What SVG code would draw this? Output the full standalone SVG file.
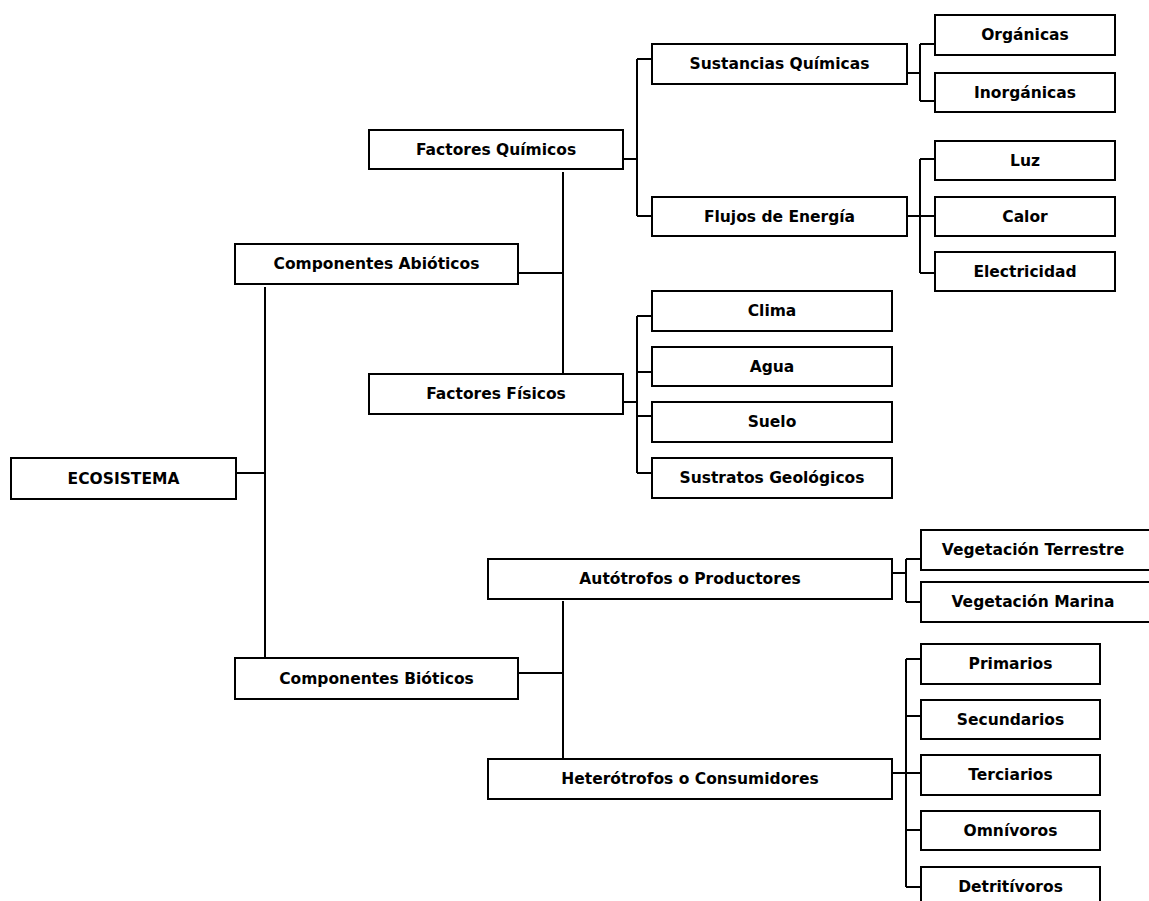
<svg xmlns="http://www.w3.org/2000/svg" width="1149" height="901" viewBox="0 0 1149 901">
<style>
.box{fill:#fff;stroke:#000;stroke-width:2}
.lbl{font-family:"DejaVu Sans","Liberation Sans",sans-serif;font-weight:bold;font-size:15.5px;fill:#000;text-anchor:middle}
.con{fill:none;stroke:#000;stroke-width:2}
</style>
<rect width="1149" height="901" fill="#fff"/>
<g id="connectors" class="con">
<path d="M236,473 H265 M265,287 V658"/>
<path d="M518,273 H563 M563,172 V374"/>
<path d="M518,673 H563 M563,601 V758"/>
<path d="M623,159 H637 M637,59 V216 M637,59 H652 M637,216 H652"/>
<path d="M907,73 H920 M920,44 V101 M920,44 H935 M920,101 H935"/>
<path d="M907,216 H920 M920,159 V273 M920,159 H935 M920,216 H935 M920,273 H935"/>
<path d="M623,402 H637 M637,316 V473 M637,316 H652 M637,372 H652 M637,416 H652 M637,473 H652"/>
<path d="M892,573 H906 M906,559 V602 M906,559 H921 M906,602 H921"/>
<path d="M891,773 H906 M906,659 V887 M906,659 H921 M906,716 H921 M906,773 H921 M906,830 H921 M906,887 H921"/>
</g>
<g id="eco"><rect class="box" x="11" y="458" width="225" height="41"/><text class="lbl" x="123.5" y="484">ECOSISTEMA</text></g>
<g id="ca"><rect class="box" x="235" y="244" width="283" height="40"/><text class="lbl" x="376.5" y="268.5">Componentes Abióticos</text></g>
<g id="cb"><rect class="box" x="235" y="658" width="283" height="41"/><text class="lbl" x="376.5" y="683.5">Componentes Bióticos</text></g>
<g id="fq"><rect class="box" x="369" y="130" width="254" height="39"/><text class="lbl" x="496" y="154.5">Factores Químicos</text></g>
<g id="ff"><rect class="box" x="369" y="374" width="254" height="40"/><text class="lbl" x="496" y="398.5">Factores Físicos</text></g>
<g id="sq"><rect class="box" x="652" y="44" width="255" height="40"/><text class="lbl" x="779.5" y="68.5">Sustancias Químicas</text></g>
<g id="fe"><rect class="box" x="652" y="197" width="255" height="39"/><text class="lbl" x="779.5" y="221.5">Flujos de Energía</text></g>
<g id="org"><rect class="box" x="935" y="15" width="180" height="40"/><text class="lbl" x="1025" y="39.5">Orgánicas</text></g>
<g id="inorg"><rect class="box" x="935" y="73" width="180" height="39"/><text class="lbl" x="1025" y="97.5">Inorgánicas</text></g>
<g id="luz"><rect class="box" x="935" y="141" width="180" height="39"/><text class="lbl" x="1025" y="165.5">Luz</text></g>
<g id="calor"><rect class="box" x="935" y="197" width="180" height="39"/><text class="lbl" x="1025" y="221.5">Calor</text></g>
<g id="elec"><rect class="box" x="935" y="252" width="180" height="39"/><text class="lbl" x="1025" y="276.5">Electricidad</text></g>
<g id="clima"><rect class="box" x="652" y="291" width="240" height="40"/><text class="lbl" x="772" y="315.5">Clima</text></g>
<g id="agua"><rect class="box" x="652" y="347" width="240" height="39"/><text class="lbl" x="772" y="371.5">Agua</text></g>
<g id="suelo"><rect class="box" x="652" y="402" width="240" height="40"/><text class="lbl" x="772" y="426.5">Suelo</text></g>
<g id="sustratos"><rect class="box" x="652" y="458" width="240" height="40"/><text class="lbl" x="772" y="482.5">Sustratos Geológicos</text></g>
<g id="auto"><rect class="box" x="488" y="559" width="404" height="40"/><text class="lbl" x="690" y="583.5">Autótrofos o Productores</text></g>
<g id="hete"><rect class="box" x="488" y="759" width="404" height="40"/><text class="lbl" x="690" y="783.5">Heterótrofos o Consumidores</text></g>
<g id="vt"><rect class="box" x="921" y="530" width="240" height="40"/><text class="lbl" x="1033" y="554.5">Vegetación Terrestre</text></g>
<g id="vm"><rect class="box" x="921" y="582" width="240" height="40"/><text class="lbl" x="1033" y="606.5">Vegetación Marina</text></g>
<g id="prim"><rect class="box" x="921" y="644" width="179" height="40"/><text class="lbl" x="1010.5" y="668.5">Primarios</text></g>
<g id="sec"><rect class="box" x="921" y="700" width="179" height="39"/><text class="lbl" x="1010.5" y="724.5">Secundarios</text></g>
<g id="ter"><rect class="box" x="921" y="755" width="179" height="40"/><text class="lbl" x="1010.5" y="779.5">Terciarios</text></g>
<g id="omn"><rect class="box" x="921" y="811" width="179" height="39"/><text class="lbl" x="1010.5" y="835.5">Omnívoros</text></g>
<g id="det"><rect class="box" x="921" y="867" width="179" height="45"/><text class="lbl" x="1010.5" y="891.5">Detritívoros</text></g>
</svg>
